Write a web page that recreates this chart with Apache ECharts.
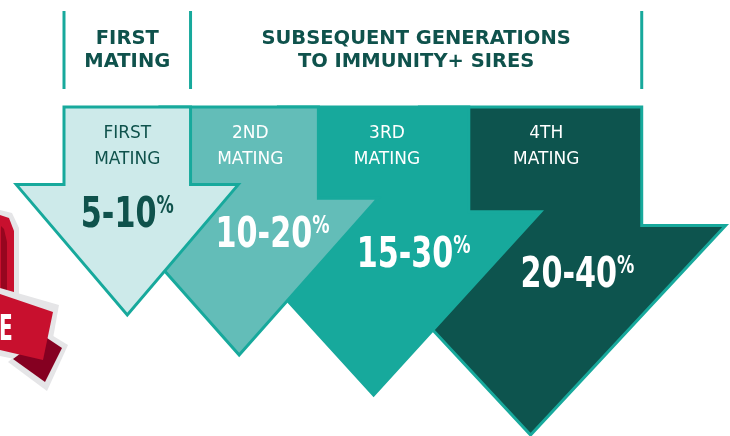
<!DOCTYPE html>
<html>
<head>
<meta charset="utf-8">
<script src="https://cdn.jsdelivr.net/npm/echarts@6/dist/echarts.min.js"></script>
<style>
  html, body { margin: 0; padding: 0; background: #fff; }
  #chart { width: 730px; height: 436px; }
</style>
</head>
<body>
<div id="chart"></div>
<script>
// 数据
const matings = ['FIRST\nMATING', '2ND\nMATING', '3RD\nMATING', '4TH\nMATING'];
const lowPct = [5, 10, 15, 20];
const highPct = [10, 20, 30, 40];
const headerLabels = ['FIRST\nMATING', 'SUBSEQUENT GENERATIONS\nTO IMMUNITY+ SIRES'];

// 样式
const fills = ['#cdeaea', '#63bdb8', '#17a99c', '#0d544e'];
const labelColors = ['#0f524c', '#ffffff', '#ffffff', '#ffffff'];
const edgeColor = '#17a99c';
const darkText = '#0f524c';
const NARROW = '"DejaVu Sans Condensed", "Liberation Sans Narrow", sans-serif';

const chart = echarts.init(document.getElementById('chart'));

// 根据数值计算每个箭头的几何尺寸（箭尖位置走 y 轴）
const layoutArrows = api => {
  const left = api.coord([0, 0])[0];
  const top = api.coord([0, -42])[1];
  let prev = null;
  return highPct.map((v, i) => {
    const s = api.size([0, v])[1];
    const h = 83 + 0.7 * s;           // 箭头半宽
    const shaft = 0.57 * h;           // 箭杆半宽
    const cx = i === 0 ? left + shaft : prev.cx + 0.805 * h;
    const tipY = api.coord([0, v])[1];
    const headTop = tipY - (104 + 0.66 * s);
    prev = { cx, h, shaft, tipY, headTop, top };
    return prev;
  });
};

const renderItem = (params, api) => {
  const i = api.value(0);
  const all = layoutArrows(api);
  const g = all[i];
  const children = [];

  children.push({
    type: 'polygon',
    z2: (4 - i) * 10,
    shape: {
      points: [
        [g.cx - g.shaft, g.top], [g.cx + g.shaft, g.top],
        [g.cx + g.shaft, g.headTop], [g.cx + g.h, g.headTop],
        [g.cx, g.tipY],
        [g.cx - g.h, g.headTop], [g.cx - g.shaft, g.headTop]
      ]
    },
    style: { fill: fills[i], stroke: edgeColor, lineWidth: 3, lineJoin: 'miter' }
  });

  const shift = i === 0 ? 0 : 1;
  children.push({
    type: 'text',
    z2: 100,
    style: {
      text: matings[i],
      x: g.cx + shift * 0.08 * g.h,
      y: g.top + 40,
      align: 'center',
      verticalAlign: 'middle',
      fill: labelColors[i],
      fontSize: 17,
      fontFamily: 'DejaVu Sans',
      lineHeight: 26
    }
  });

  // 百分比标签，横向压窄
  children.push({
    type: 'text',
    z2: 100,
    x: g.cx + shift * 0.24 * g.h,
    y: g.headTop + 0.24 * (g.tipY - g.headTop),
    scaleX: 0.8,
    style: {
      text: `{n|${lowPct[i]}-${highPct[i]}}{p|%}`,
      x: 0,
      y: 0,
      align: 'center',
      verticalAlign: 'middle',
      rich: {
        n: { fontSize: 42, fontWeight: 'bold', fontFamily: NARROW, fill: labelColors[i], lineHeight: 42 },
        p: { fontSize: 24, fontWeight: 'bold', fontFamily: NARROW, fill: labelColors[i], lineHeight: 34, verticalAlign: 'top' }
      }
    }
  });

  // 表头
  const headLine = x => ({
    type: 'rect',
    z2: 100,
    shape: { x: x - 1.5, y: g.top - 96, width: 3, height: 78 },
    style: { fill: edgeColor }
  });
  const headText = (text, x) => ({
    type: 'text',
    z2: 100,
    style: {
      text, x, y: g.top - 57,
      align: 'center', verticalAlign: 'middle',
      fill: darkText, fontSize: 19.5, fontWeight: 'bold',
      fontFamily: 'DejaVu Sans', lineHeight: 23
    }
  });
  if (i === 0) {
    children.push(headLine(g.cx - g.shaft), headLine(g.cx + g.shaft), headText(headerLabels[0], g.cx));
  }
  if (i === all.length - 1) {
    const l = all[0].cx + all[0].shaft;
    const r = g.cx + g.shaft;
    children.push(headLine(r), headText(headerLabels[1], (l + r) / 2));
  }

  return { type: 'group', children };
};

// 左侧徽章（装饰）
const badge = [
  { type: 'polygon', shape: { points: [[0, 210], [12, 213], [19, 228], [19, 298], [0, 302]] }, style: { fill: '#e5e5e7' } },
  { type: 'polygon', shape: { points: [[0, 215], [9, 218], [14, 231], [14, 296], [0, 298]] }, style: { fill: '#c8102e' } },
  { type: 'polygon', shape: { points: [[1, 226], [4, 229], [7, 242], [7, 292], [1, 294]] }, style: { fill: '#96061f' } },
  { type: 'polygon', shape: { points: [[8, 362], [45, 331], [68, 345], [47, 391]] }, style: { fill: '#e5e5e7' } },
  { type: 'polygon', shape: { points: [[0, 288], [59, 305], [48, 366], [0, 356]] }, style: { fill: '#e5e5e7' } },
  { type: 'polygon', shape: { points: [[13, 359], [44, 336], [62, 348], [45, 382]] }, style: { fill: '#850021' } },
  { type: 'polygon', shape: { points: [[0, 294], [53, 312], [43, 360], [0, 350]] }, style: { fill: '#c8102e' } },
  {
    type: 'text', x: -1, y: 331, scaleX: 0.62,
    style: { text: 'E', align: 'left', verticalAlign: 'middle', fill: '#fff', fontSize: 36, fontWeight: 'bold', fontFamily: NARROW }
  }
];

const option = {
  animation: false,
  backgroundColor: '#ffffff',
  grid: { left: 64, right: 10, top: 107, bottom: 1 },
  xAxis: { type: 'value', min: 0, max: 100, show: false },
  yAxis: { type: 'value', inverse: true, min: -42, max: 40, show: false },
  graphic: badge,
  series: [{
    type: 'custom',
    renderItem,
    clip: false,
    data: [3, 2, 1, 0].map(i => [i])
  }]
};

chart.setOption(option);
</script>
</body>
</html>
